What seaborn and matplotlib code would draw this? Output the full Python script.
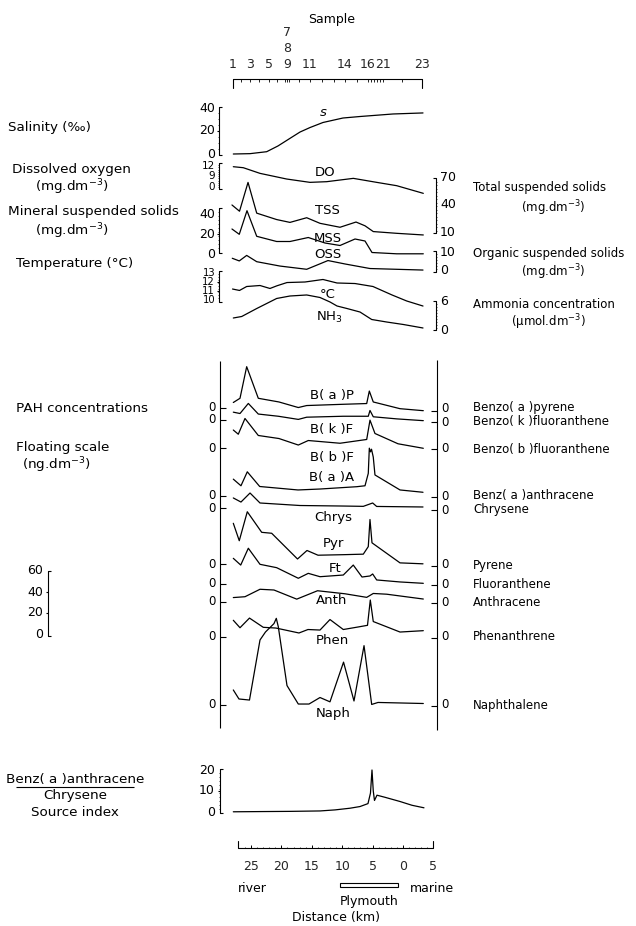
import numpy as np
import matplotlib
matplotlib.use("Agg")
import matplotlib.pyplot as plt
import seaborn as sns
from matplotlib.transforms import Affine2D
from matplotlib.lines import Line2D
from matplotlib.patches import Rectangle

W, H = 636, 926

# ---- data: x = distance along the estuary in km (river side positive, marine negative)
sal_km = [27.91, 25.16, 22.42, 20.56, 18.59, 16.94, 15.30, 13.16, 9.87, 7.07, 1.64, -3.29]
sal = [0, 0.3, 2.0, 7.0, 13.6, 19.1, 23.0, 27.4, 31.3, 32.6, 34.8, 35.7]

do_km = [27.91, 26.27, 23.52, 19.13, 15.30, 12.56, 8.17, 4.33, 1.04, -3.34]
do = [11.8, 11.5, 9.8, 8.1, 7.1, 7.3, 8.3, 7.1, 6.1, 3.8]

tss_km = [28.13, 26.89, 25.49, 24.06, 20.78, 18.59, 15.84, 13.65, 10.36, 7.73, 6.25, 4.89, 1.04, -3.34]
tss = [39.5, 32.7, 64.1, 30.6, 23.6, 20.5, 25.6, 19.5, 15.2, 20.9, 16.8, 10.5, 8.6, 6.8]

mss_km = [28.13, 26.93, 25.66, 24.06, 20.78, 18.59, 15.58, 12.83, 10.36, 7.89, 6.25, 5.10, 1.04, -3.34]
mss = [25, 19.7, 43.3, 17.7, 12.5, 12.5, 16.5, 11, 8.5, 15, 13, 1.5, 0.2, 0.2]

oss_km = [28.08, 26.93, 25.71, 24.06, 20.23, 15.84, 12.34, 9.54, 5.43, -3.29]
oss = [6.7, 5.3, 8.2, 4.9, 2.6, 0.9, 5.5, 3.7, 1.3, 0.5]

temp_km = [28.04, 26.89, 25.71, 23.52, 21.88, 20.73, 19.08, 16.12, 13.16, 10.85, 7.89, 4.94, 1.81, -0.61, -3.29]
temp = [11.22, 11.06, 11.5, 11.61, 11.28, 11.58, 11.94, 12.0, 12.28, 11.89, 11.83, 11.5, 10.56, 9.89, 9.33]

nh3_km = [27.91, 26.53, 24.06, 20.78, 18.59, 15.84, 13.65, 12.01, 10.85, 9.21, 7.07, 5.15, 2.68, -0.05, -3.29]
nh3 = [2.57, 2.89, 4.6, 6.75, 7.28, 7.5, 6.96, 6.0, 5.14, 4.6, 3.85, 2.25, 1.71, 1.18, 0.43]

# PAH, ng/dm3
bap_km = [27.91, 26.81, 25.71, 23.80, 20.40, 17.22, 15.84, 9.82, 5.97, 5.54, 4.89, 0.49, -3.34]
bap = [8.1, 12.1, 42.2, 12.1, 8.6, 3.3, 5.2, 6.4, 7.1, 19.0, 8.6, 2.2, 0.3]

bkf_km = [27.91, 26.81, 25.44, 23.80, 20.51, 17.22, 15.84, 9.82, 5.71, 5.43, 4.89, 1.04, -3.34]
bkf = [8.9, 7.6, 17.2, 7.1, 5.0, 2.0, 4.1, 5.0, 5.0, 10.5, 4.5, 2.5, 0.8]

bbf_km = [27.91, 27.09, 25.99, 23.80, 20.40, 17.22, 15.58, 10.36, 5.97, 5.43, 4.61, 0.82, -3.34]
bbf = [17.6, 13.6, 28.6, 12.4, 9.5, 3.3, 7.6, 5.0, 8.6, 27.0, 14.3, 4.5, 0.2]

baa_km = [27.91, 26.65, 25.61, 23.57, 17.27, 13.65, 7.62, 6.25, 5.71, 5.54, 5.35, 5.18, 4.89, 4.61, 0.49, -3.29]
baa = [17, 10.7, 24, 10, 6.7, 7.6, 9.8, 10.7, 22.5, 46.5, 43, 45.5, 38, 21, 6.7, 4.5]

chrys_km = [27.91, 26.65, 25.16, 23.52, 16.94, 9.87, 6.53, 4.99, 4.33, -3.29]
chrys = [11.0, 7.1, 15.7, 6.2, 3.8, 3.3, 3.0, 6.2, 2.9, 2.4]

pyr_km = [27.91, 26.93, 25.61, 23.24, 21.60, 17.35, 15.79, 13.98, 9.82, 6.53, 5.71, 5.43, 5.10, 0.49, -3.29]
pyr = [40.2, 23.6, 51.2, 31.6, 30.7, 6.2, 14.3, 9.8, 10.3, 10.8, 18, 43.8, 21.6, 2.5, 1.6]

ft_km = [27.91, 26.69, 25.44, 23.52, 20.78, 17.22, 15.58, 13.65, 9.82, 8.18, 6.74, 5.43, 4.99, 4.33, 0.49, -3.34]
ft = [25.4, 19.0, 35.0, 19.7, 16.5, 6.4, 11.1, 7.9, 9.5, 19.0, 7.6, 8.6, 10.5, 4.8, 2.9, 1.6]

anth_km = [27.91, 25.99, 23.52, 21.22, 17.48, 14.06, 9.54, 5.97, 4.89, 2.68, -3.34]
anth = [4.7, 5.5, 12.6, 11.9, 3.2, 11.2, 8.3, 4.9, 8.6, 7.9, 3.3]

phen_km = [27.91, 26.81, 25.25, 22.98, 20.89, 17.11, 15.63, 13.65, 12.01, 9.82, 7.40, 5.84, 5.38, 4.89, 0.49, -3.34]
phen = [16.4, 9.3, 18.5, 9.7, 9.0, 4.3, 7.6, 7.1, 17.1, 7.6, 10.0, 11.6, 35.7, 15.2, 5.2, 6.5]

naph_km = [27.91, 26.98, 25.25, 23.52, 22.62, 21.22, 20.84, 20.51, 19.08, 17.22, 15.46, 13.65, 12.01,
           9.78, 8.06, 6.41, 5.15, 4.11, -3.34]
naph = [14.8, 6.2, 5.2, 62.4, 70.0, 78.0, 83.0, 75.0, 19.0, 1.4, 1.4, 7.6, 3.5, 41.3, 4.3, 57.0, 1.0, 2.9, 1.9]

# source index  B(a)A / Chrysene
src_km = [27.91, 23.52, 18.59, 13.65, 11.18, 8.72, 7.07, 5.76, 5.35, 5.10, 4.89, 4.69, 4.28, 2.96, 0.49, -1.48, -3.45]
src = [0.1, 0.2, 0.3, 0.5, 1.0, 1.8, 2.6, 4.0, 9, 20, 10, 5.5, 8, 7, 5, 3.2, 2.0]

# sample stations
sample_km = [27.96, 26.64, 25.16, 23.68, 22.04, 20.73, 19.41, 19.08, 18.74, 17.11, 15.30, 13.32,
             11.35, 9.54, 7.57, 5.76, 5.26, 4.77, 4.28, 3.78, 3.29, 0.16, -3.12]
sample_lab_km = [27.96, 25.16, 22.04, 19.08, 15.30, 9.54, 5.76, 3.29, -3.12]
sample_lab = ["1", "3", "5", "9", "11", "14", "16", "21", "23"]

dist_ticks = [25, 20, 15, 10, 5, 0, -5]
dist_lab = ["25", "20", "15", "10", "5", "0", "5"]

# ---- layout: (pixel row of value 0, pixels per unit)
env_layout = {
    "sal": (154, 1.15), "do": (206, 3.33), "tss": (241.2, 0.917), "mss": (254, 1.0),
    "oss": (271, 1.9), "temp": (390, 9.0), "nh3": (330, 4.67),
}
pah_k = 1.05
pah_zero_r = [411, 421.5, 448.5, 497, 509.5, 565.5, 585, 602.5, 637.5, 705.5]
pah_zero_l = [407.5, 419.5, 448, 495.5, 508, 564, 583.5, 601.5, 637, 705]
pah_label_y = [408, 422, 449, 496, 510, 565, 584, 602, 637, 705]
pah_names = ["Benzo( a )pyrene", "Benzo( k )fluoranthene", "Benzo( b )fluoranthene",
             "Benz( a )anthracene", "Chrysene", "Pyrene", "Fluoranthene", "Anthracene",
             "Phenanthrene", "Naphthalene"]
src_zero, src_k = 812, 2.1

sns.set_theme(style="white")
plt.rcParams["font.family"] = ["DejaVu Sans"]
plt.rcParams["mathtext.fontset"] = "dejavusans"

fig = plt.figure(figsize=(W / 100, H / 100), dpi=100)
fig.patch.set_facecolor("white")
PX = Affine2D().scale(1 / W, -1 / H).translate(0, 1) + fig.transFigure


def km_of(px):
    return (403 - px) / 6.08


ax = fig.add_axes([218 / W, 0, 220 / W, 1])
ax.set_xlim(km_of(218), km_of(438))
ax.set_ylim(H, 0)
ax.axis("off")


def trace(km, vals, zero, k):
    y = zero - k * np.asarray(vals, dtype=float)
    sns.lineplot(x=km, y=y, ax=ax, color="black", lw=0.9, sort=False, estimator=None)


def seg(xs, ys, lw=0.8):
    fig.add_artist(Line2D(xs, ys, transform=PX, color="black", lw=lw, solid_capstyle="butt"))


def put(x, y, s, ha="left", size=9, **kw):
    fig.text(x, y, s, transform=PX, ha=ha, va="center", fontsize=size, color="black", **kw)


def bracket(x, y0, y1, side, majors=(), minor=3.5):
    # side=+1 "[" with labels on the left, side=-1 "]" with labels on the right
    seg([x + 3 * side, x, x, x + 3 * side], [y0, y0, y1, y1])
    for yy in majors:
        seg([x - 2.5 * side, x], [yy, yy])
    if minor:
        for yy in np.arange(y0 + minor, y1 - 1, minor):
            seg([x - 1.3 * side, x], [yy, yy], lw=0.5)


# environmental traces
for km, v, key in [(sal_km, sal, "sal"), (do_km, do, "do"), (tss_km, tss, "tss"), (mss_km, mss, "mss"),
                   (oss_km, oss, "oss"), (temp_km, temp, "temp"), (nh3_km, nh3, "nh3")]:
    trace(km, v, *env_layout[key])

# PAH traces
pah_data = [(bap_km, bap), (bkf_km, bkf), (bbf_km, bbf), (baa_km, baa), (chrys_km, chrys),
            (pyr_km, pyr), (ft_km, ft), (anth_km, anth), (phen_km, phen), (naph_km, naph)]
for (km, v), z in zip(pah_data, pah_zero_r):
    trace(km, v, z, pah_k)

trace(src_km, src, src_zero, src_k)
ax.set_xlim(km_of(218), km_of(438))
ax.set_ylim(H, 0)

# ---- sample axis at top
ax.plot([sample_km[0], sample_km[0], sample_km[-1], sample_km[-1]], [88, 79, 79, 88],
        color="black", lw=0.8, clip_on=False)
ax.vlines(sample_km, 79, 81.5, color="black", lw=0.6, clip_on=False)
for km, lab in zip(sample_lab_km, sample_lab):
    ax.text(km, 65, lab, ha="center", va="center", fontsize=9)
ax.text(19.08, 48, "8", ha="center", va="center", fontsize=9)
ax.text(19.08, 32, "7", ha="center", va="center", fontsize=9)
put(332, 19, "Sample", ha="center")

# ---- environmental scales
def left_scale(y0, y1, labels, majors=(), minor=3.5, size=9):
    bracket(219, y0, y1, +1, majors, minor)
    for yy, s in labels:
        put(215, yy, s, ha="right", size=size)


def right_scale(y0, y1, labels, majors=(), minor=3.5):
    bracket(436, y0, y1, -1, majors, minor)
    for yy, s in labels:
        put(440, yy, s)


z, k = env_layout["sal"]
left_scale(107, 155, [(z - 40 * k, "40"), (z - 20 * k, "20"), (z, "0")], majors=[z - 20 * k], minor=6)
z, k = env_layout["do"]
left_scale(163, 189, [(z - 12 * k, "12"), (z - 9 * k, "9"), (187, "0")], minor=2.2, size=7.5)
z, k = env_layout["mss"]
left_scale(208, 253, [(z - 40 * k, "40"), (z - 20 * k, "20"), (z, "0")], majors=[z - 20 * k], minor=4)
z, k = env_layout["temp"]
left_scale(271, 302, [(z - 13 * k, "13"), (z - 12 * k, "12"), (z - 11 * k, "11"), (z - 10 * k, "10")],
           majors=[z - 12 * k, z - 11 * k], minor=3, size=7.2)

z, k = env_layout["tss"]
right_scale(178, 233, [(z - 70 * k, "70"), (z - 40 * k, "40"), (z - 10 * k, "10")], minor=3.5)
z, k = env_layout["oss"]
right_scale(251, 272, [(z - 10 * k, "10"), (z, "0")], minor=3)
z, k = env_layout["nh3"]
right_scale(301, 330, [(z - 6 * k, "6"), (z, "0")], minor=3)

LS = 9.7  # left-hand descriptive labels
put(8, 128, "Salinity (‰)", size=LS)
put(12, 170, "Dissolved oxygen", size=LS)
put(72, 187, "(mg.dm$^{-3}$)", ha="center", size=LS)
put(8, 212, "Mineral suspended solids", size=LS)
put(72, 231, "(mg.dm$^{-3}$)", ha="center", size=LS)
put(16, 263, "Temperature (°C)", size=LS)
put(473, 188, "Total suspended solids", size=8.5)
put(553, 208, "(mg.dm$^{-3}$)", ha="center", size=8.5)
put(473, 254, "Organic suspended solids", size=8.5)
put(553, 272, "(mg.dm$^{-3}$)", ha="center", size=8.5)
put(473, 304, "Ammonia concentration", size=8.5)
put(548, 322, "(µmol.dm$^{-3}$)", ha="center", size=8.5)

# trace labels
for x, y, s in [(323, 113, "s"), (325, 172, "DO"), (327, 210, "TSS"), (328, 238, "MSS"),
                (328, 255, "OSS"), (328, 294, "°C"), (329, 317, "NH$_3$")]:
    put(x, y, s, ha="center", size=9.5, fontstyle="italic" if s == "s" else "normal")

# ---- PAH block
seg([220, 220], [361, 728])
seg([437, 437], [360, 730])
for zl, zr, ly, name in zip(pah_zero_l, pah_zero_r, pah_label_y, pah_names):
    seg([220, 226], [zl, zl])
    seg([431, 437], [zr, zr])
    put(216, zl, "0", ha="right", size=8.5)
    put(441, ly, "0", size=8.5)
    put(473, ly, name, size=8.5)

for x, y, s in [(332, 395, "B( a )P"), (332, 430, "B( k )F"), (332, 457, "B( b )F"),
                (332, 477, "B( a )A"), (333, 518, "Chrys"), (333, 543, "Pyr"), (335, 568, "Ft"),
                (332, 601, "Anth"), (332, 640, "Phen"), (333, 714, "Naph")]:
    put(x, y, s, ha="center", size=9.5)

put(16, 409, "PAH concentrations", size=LS)
put(16, 447, "Floating scale", size=LS)
put(22, 465, "(ng.dm$^{-3}$)", size=LS)

# floating scale
fz = 634
bracket(48, fz - 60 * pah_k, fz + 2, +1, majors=[fz - 40 * pah_k, fz - 20 * pah_k], minor=0)
for v in [60, 40, 20, 0]:
    put(43, fz - v * pah_k, str(v), ha="right")

# ---- source index
bracket(220, src_zero - 20.5 * src_k, src_zero + 1, +1, majors=[src_zero - 10 * src_k], minor=4)
for v in [20, 10, 0]:
    put(215, src_zero - v * src_k, str(v), ha="right")
put(75, 780, "Benz( a )anthracene", ha="center", size=LS)
seg([16, 134], [787, 787])
put(75, 795, "Chrysene", ha="center", size=LS)
put(75, 812, "Source index", ha="center", size=LS)

# ---- distance axis
ax.plot([27.1, 27.1, -5, -5], [841, 848, 848, 841], color="black", lw=0.8, clip_on=False)
ax.vlines(dist_ticks[:-1], 844.5, 848, color="black", lw=0.7, clip_on=False)
ax.vlines(np.arange(-4, 27, 1.0), 846.5, 848, color="black", lw=0.5, clip_on=False)
for t, lab in zip(dist_ticks, dist_lab):
    ax.text(t, 866, lab, ha="center", va="center", fontsize=9)
ax.add_patch(Rectangle((km_of(398), 883), km_of(340) - km_of(398), 4, fill=False,
                       edgecolor="black", lw=0.8, clip_on=False))
put(238, 888, "river")
put(432, 888, "marine", ha="center")
put(369, 901, "Plymouth", ha="center")
put(336, 918, "Distance (km)", ha="center")

fig.savefig("out.png", dpi=100, facecolor="white")
